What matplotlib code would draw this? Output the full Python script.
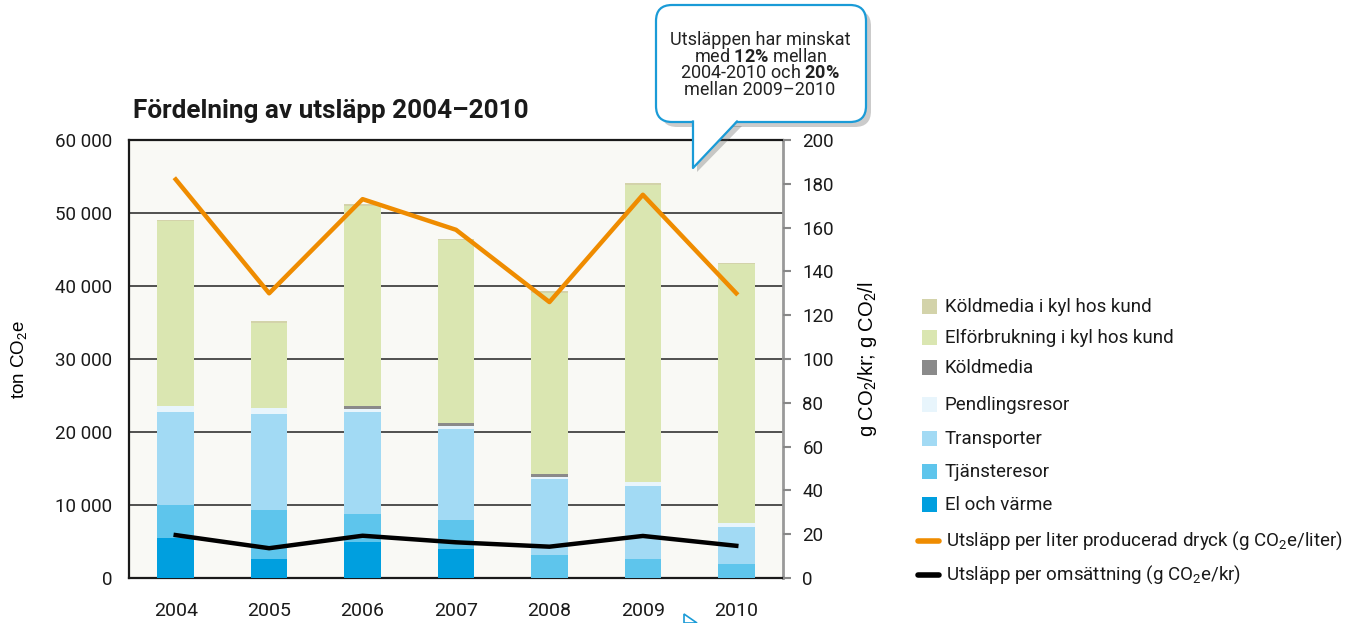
import matplotlib
matplotlib.use("Agg")
import matplotlib.pyplot as plt
from matplotlib.patches import FancyBboxPatch, Polygon, Rectangle
import numpy as np

plt.rcParams['font.family'] = ['Roboto', 'DejaVu Sans']
plt.rcParams['mathtext.fontset'] = 'custom'
plt.rcParams['mathtext.rm'] = 'Roboto'
plt.rcParams['mathtext.bf'] = 'Roboto:bold'

# ---- data ----
years = ['2004', '2005', '2006', '2007', '2008', '2009', '2010']
el_varme = [5500, 2600, 5000, 4000, 0, 0, 0]
tjansteresor = [4500, 6700, 3800, 3950, 3150, 2600, 1900]
transporter = [12800, 13100, 14000, 12450, 10450, 10000, 5100]
pendlingsresor = [700, 900, 400, 400, 300, 600, 600]
koldmedia = [100, 50, 300, 400, 400, 0, 0]
elforbrukning_kyl = [25300, 11600, 27450, 25100, 24800, 40700, 35350]
koldmedia_kyl = [200, 200, 250, 200, 200, 200, 200]

per_liter = [182, 130, 173, 159, 126, 175, 130]
per_omsattning = [19.6, 13.6, 19.3, 16.3, 14.3, 19.2, 14.7]

series = [
    ("El och värme", el_varme, "#009fdf"),
    ("Tjänsteresor", tjansteresor, "#5ec5ec"),
    ("Transporter", transporter, "#a2daf4"),
    ("Pendlingsresor", pendlingsresor, "#e8f5fc"),
    ("Köldmedia", koldmedia, "#8a8a8a"),
    ("Elförbrukning i kyl hos kund", elforbrukning_kyl, "#dae6b1"),
    ("Köldmedia i kyl hos kund", koldmedia_kyl, "#d3d3aa"),
]

W, H = 1362, 623
fig = plt.figure(figsize=(W / 100, H / 100), dpi=100)

# plot area in pixels: x 129..783, y 140..578
ax = fig.add_axes([129 / W, 1 - 578 / H, (783 - 129) / W, (578 - 140) / H])
ax.set_facecolor("#f9f9f5")

x = np.arange(len(years))
bottom = np.zeros(len(years))
for name, vals, col in series:
    ax.bar(x, vals, bottom=bottom, width=0.39, color=col, zorder=3)
    bottom += np.array(vals)

ax.set_xlim(-0.5, 6.5)
ax.set_ylim(0, 60000)
ax.set_yticks(range(0, 60001, 10000))
ax.set_yticklabels(["0", "10 000", "20 000", "30 000", "40 000", "50 000", "60 000"])
ax.set_xticks(x)
ax.set_xticklabels(years)
ax.tick_params(axis='y', length=0, pad=12, labelsize=13.5, colors="#1a1a1a")
ax.tick_params(axis='x', length=0, pad=17, labelsize=14, colors="#1a1a1a")
ax.grid(axis='y', color="#222222", linewidth=1.1, zorder=1)
for s in ['top', 'left', 'bottom']:
    ax.spines[s].set_color("#1a1a1a")
    ax.spines[s].set_linewidth(1.6)
ax.spines['right'].set_color("#999999")
ax.spines['right'].set_linewidth(2)
ax.set_ylabel("ton CO$_2$e", family=['Liberation Sans', 'DejaVu Sans'], fontsize=13.5, labelpad=18)

ax2 = ax.twinx()
ax2.set_ylim(0, 200)
ax2.set_yticks(range(0, 201, 20))
ax2.tick_params(axis='y', length=6, width=1.5, color="#888888", pad=8, labelsize=13.5, labelcolor="#1a1a1a")
for s in ['top', 'left', 'bottom', 'right']:
    ax2.spines[s].set_visible(False)
ax2.plot(x, per_liter, color="#ef8c00", linewidth=3.2, zorder=5)
ax2.plot(x, per_omsattning, color="black", linewidth=3.2, zorder=5)
ax2.set_ylabel("g CO$_2$/kr; g CO$_2$/l", family=['Liberation Sans', 'DejaVu Sans'], fontsize=14.5, labelpad=16)

fig.text(133 / W, 1 - 111 / H, "Fördelning av utsläpp 2004–2010", fontsize=18.8,
         fontweight='bold', va='center', ha='left', color="#1a1a1a")

# overlay in pixel coordinates for the callout and legend
ov = fig.add_axes([0, 0, 1, 1], zorder=10)
ov.set_xlim(0, W)
ov.set_ylim(H, 0)
ov.axis('off')

# callout shadow + box + pointer
ov.add_patch(FancyBboxPatch((661, 10), 210, 117, boxstyle="round,pad=0,rounding_size=16",
                            facecolor="#555555", alpha=0.3, edgecolor='none'))
ov.add_patch(Polygon([(697, 126), (697, 172), (742, 126)], closed=True,
                     facecolor="#555555", alpha=0.3, edgecolor='none'))
ov.add_patch(FancyBboxPatch((656, 5), 210, 117, boxstyle="round,pad=0,rounding_size=16",
                            facecolor="white", edgecolor="#1a9bd7", linewidth=1.6))
ov.add_patch(Polygon([(693, 120), (693, 168), (737, 120)], closed=True,
                     facecolor="white", edgecolor="none"))
ov.plot([693, 693, 737], [121.5, 168, 121.5], color="#1a9bd7", linewidth=1.6)
callout = ["Utsläppen har minskat",
           r"med $\mathbf{12\%}$ mellan",
           r"2004-2010 och $\mathbf{20\%}$",
           "mellan 2009–2010"]
for i, line in enumerate(callout):
    ov.text(760, 40 + i * 16.7, line, fontsize=13, ha='center', va='center', color="#222222")

# small pointer fragment at bottom
ov.add_patch(Polygon([(684, 614), (684, 623), (697, 623)], closed=True,
                     facecolor="white", edgecolor="#1a9bd7", linewidth=1.2))

# legend
legend_rows = [
    ("Köldmedia i kyl hos kund", "#d3d3aa", 307),
    ("Elförbrukning i kyl hos kund", "#dae6b1", 338),
    ("Köldmedia", "#8a8a8a", 368),
    ("Pendlingsresor", "#e8f5fc", 405),
    ("Transporter", "#a2daf4", 439),
    ("Tjänsteresor", "#5ec5ec", 472),
    ("El och värme", "#009fdf", 505),
]
for label, col, yy in legend_rows:
    ov.add_patch(Rectangle((922, yy - 8), 15, 15, facecolor=col, edgecolor='none'))
    ov.text(945, yy, label, fontsize=13.5, va='center', ha='left', color="#1a1a1a")
line_rows = [
    ("Utsläpp per liter producerad dryck (g CO$_2$e/liter)", "#ef8c00", 541),
    ("Utsläpp per omsättning (g CO$_2$e/kr)", "black", 575),
]
for label, col, yy in line_rows:
    ov.plot([918, 939], [yy, yy], color=col, linewidth=4, solid_capstyle='round')
    ov.text(946, yy, label, fontsize=13.5, va='center', ha='left', color="#1a1a1a")

fig.savefig("out.png", dpi=100)
